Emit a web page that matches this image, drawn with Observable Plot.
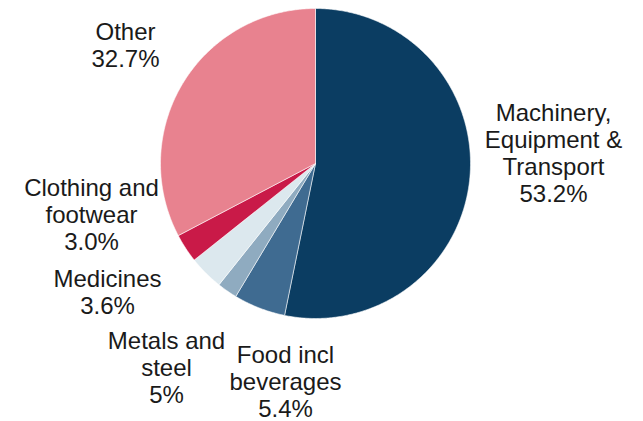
<!DOCTYPE html>
<html>
<head>
<meta charset="utf-8">
<script src="https://cdn.jsdelivr.net/npm/d3@7"></script>
<script src="https://cdn.jsdelivr.net/npm/@observablehq/plot@0.6"></script>
<style>
  html, body { margin: 0; padding: 0; background: #ffffff; }
  #chart svg { display: block; }
</style>
</head>
<body>
<div id="chart"></div>
<script>
// ---- data ----
const categories = [
  "Machinery, Equipment & Transport",
  "Food incl beverages",
  "Metals and steel",
  "Medicines",
  "Clothing and footwear",
  "Other"
];
const shares = [53.2, 5.4, 2.1, 3.6, 3.0, 32.7];   // slice sizes
const labelTexts = [
  "Machinery,\nEquipment &\nTransport\n53.2%",
  "Food incl\nbeverages\n5.4%",
  "Metals and\nsteel\n5%",
  "Medicines\n3.6%",
  "Clothing and\nfootwear\n3.0%",
  "Other\n32.7%"
];

// ---- styling / layout ----
const colors = ["#0b3d62", "#3f6b91", "#8fabc0", "#dce8ee", "#c91a48", "#e8828f"];
const W = 643, H = 421;
const cx = 315, cy = 163, R = 155;
// label block centres (layout, in chart units)
const labelPos = [
  [553, 152], [285, 381], [166, 367], [107, 291], [91, 214], [125, 44]
];

const arcs = d3.pie().sort(null).value(d => d)(shares);

const slicePts = [];
arcs.forEach((a, i) => {
  const name = categories[i];
  slicePts.push({name, x: cx, y: cy});
  const n = Math.max(2, Math.ceil((a.endAngle - a.startAngle) / (Math.PI / 360)));
  for (let k = 0; k <= n; k++) {
    const t = a.startAngle + (a.endAngle - a.startAngle) * k / n;
    slicePts.push({name, x: cx + R * Math.sin(t), y: cy - R * Math.cos(t)});
  }
  slicePts.push({name, x: cx, y: cy});
});

const labels = categories.map((c, i) => ({
  name: c, text: labelTexts[i], x: labelPos[i][0], y: labelPos[i][1]
}));

const chart = Plot.plot({
  width: W,
  height: H,
  margin: 0,
  style: {background: "#ffffff"},
  x: {domain: [0, W], range: [0, W], axis: null},
  y: {domain: [0, H], range: [0, H], axis: null},
  color: {domain: categories, range: colors},
  marks: [
    Plot.line(slicePts, {
      x: "x", y: "y", z: "name", fill: "name",
      stroke: "#ffffff", strokeWidth: 0.8, strokeOpacity: 0.7, curve: "linear"
    }),
    Plot.text(labels, {
      x: "x", y: "y", text: "text",
      fontSize: 24, lineHeight: 1.13,
      textAnchor: "middle", lineAnchor: "middle",
      fill: "#1a1a1a",
      fontFamily: "'Liberation Sans', Arial, sans-serif"
    })
  ]
});

document.getElementById("chart").appendChild(chart);
</script>
</body>
</html>
